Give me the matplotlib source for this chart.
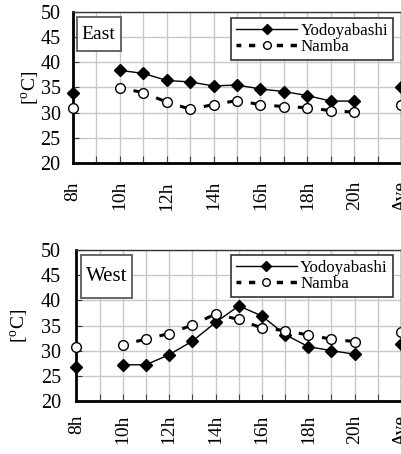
import matplotlib
matplotlib.use("Agg")
import matplotlib.pyplot as plt
from matplotlib.lines import Line2D
from matplotlib.patches import Rectangle
import numpy as np

plt.rcParams['font.family'] = ['Liberation Serif', 'DejaVu Serif']
plt.rcParams['mathtext.fontset'] = 'custom'
plt.rcParams['mathtext.rm'] = 'Liberation Serif'
plt.rcParams['lines.scale_dashes'] = False

categories = ['8h', '9h', '10h', '11h', '12h', '13h', '14h', '15h', '16h',
              '17h', '18h', '19h', '20h', '', 'Ave']
tick_labels = ['8h', '', '10h', '', '12h', '', '14h', '', '16h', '', '18h',
               '', '20h', '', 'Ave']

east_yodoyabashi = [33.9, None, 38.4, 37.8, 36.4, 36.1, 35.3, 35.5, 34.7,
                    34.2, 33.4, 32.3, 32.3, None, 35.0]
east_namba = [31.0, None, 34.9, 34.0, 32.1, 30.7, 31.6, 32.4, 31.6,
              31.2, 31.0, 30.4, 30.1, None, 31.6]
west_yodoyabashi = [26.7, None, 27.2, 27.2, 29.2, 31.9, 35.6, 38.9, 36.9,
                    33.2, 30.8, 30.0, 29.3, None, 31.4]
west_namba = [30.7, None, 31.2, 32.3, 33.4, 35.1, 37.3, 36.2, 34.5,
              34.0, 33.1, 32.3, 31.8, None, 33.7]

def to_arr(v):
    return np.array([np.nan if a is None else a for a in v], dtype=float)

fig = plt.figure(figsize=(4.02, 4.54), dpi=100)

def draw(ax, yodo, namba, title, title_box, title_size, leg_anchor,
         xpad, ypad, ylab_x):
    x = np.arange(len(categories))
    yv = to_arr(yodo)
    nv = to_arr(namba)
    ax.set_xlim(0, len(categories) - 1)
    ax.set_ylim(20, 50)
    ax.set_yticks(np.arange(20, 51, 5))
    ax.set_xticks(x)
    ax.set_xticklabels(tick_labels, rotation=90, fontsize=14)
    ax.tick_params(axis='y', labelsize=14.5, direction='in', length=4,
                   color='#333333', pad=ypad)
    ax.tick_params(axis='x', direction='in', length=5, color='#444444',
                   pad=xpad)
    ax.grid(True, color='#c8c8c8', lw=1)
    ax.set_axisbelow(True)
    for s in ['left', 'bottom']:
        ax.spines[s].set_linewidth(2)
        ax.spines[s].set_color('black')
    for s in ['top', 'right']:
        ax.spines[s].set_linewidth(1)
        ax.spines[s].set_color('#333333')
    # Yodoyabashi solid line
    ax.plot(x, yv, color='black', lw=1, marker='D', markersize=6.5,
            markerfacecolor='black', markeredgecolor='black', clip_on=False,
            zorder=4)
    # Namba: dashed segment near each following marker
    on, off, d = 5.0, 200.0, 10.0
    for i in range(len(x) - 1):
        if np.isnan(nv[i]) or np.isnan(nv[i + 1]):
            continue
        ax.plot([x[i], x[i + 1]], [nv[i], nv[i + 1]], color='black', lw=2.2,
                linestyle=(on + off - d, (on, off)), zorder=3,
                solid_capstyle='butt', dash_capstyle='butt')
    ax.plot(x, nv, linestyle='none', marker='o', markersize=7,
            markerfacecolor='white', markeredgecolor='black',
            markeredgewidth=1, clip_on=False, zorder=5)
    ax.set_ylabel('[$^{\\mathrm{o}}$C]', fontsize=14)
    ax.yaxis.set_label_coords(ylab_x, 0.5)
    x0, y0, x1, y1 = title_box
    ax.add_patch(Rectangle((x0, y0), x1 - x0, y1 - y0, transform=ax.transAxes,
                           fc='white', ec='#666666', lw=1.4, zorder=6))
    ax.text((x0 + x1) / 2, (y0 + y1) / 2, title, transform=ax.transAxes,
            fontsize=title_size, ha='center', va='center', zorder=7)
    h1 = Line2D([], [], color='black', lw=1, marker='D', markersize=5.5,
                markerfacecolor='black')
    h2 = Line2D([], [], color='black', lw=2.5, linestyle=(1, (4.5, 5.5)),
                marker='o', markersize=5.5, markerfacecolor='white',
                markeredgewidth=1, dash_capstyle='butt')
    leg = ax.legend([h1, h2], ['Yodoyabashi', 'Namba'], loc='upper right',
                    bbox_to_anchor=leg_anchor, borderaxespad=0,
                    fontsize=12.2, handlelength=3.6, handletextpad=0.2,
                    labelspacing=0.0, borderpad=0.3, fancybox=False,
                    framealpha=1, edgecolor='#333333')
    leg.get_frame().set_linewidth(1.2)
    leg.set_zorder(8)

ax1 = fig.add_axes([0.1816, 0.641, 0.816, 0.3326])
draw(ax1, east_yodoyabashi, east_namba, 'East',
     (0.011, 0.742, 0.145, 0.964), 14, (0.976, 0.96),
     xpad=13, ypad=9, ylab_x=-0.095)
ax2 = fig.add_axes([0.19, 0.1167, 0.8077, 0.3326])
draw(ax2, west_yodoyabashi, west_namba, 'West',
     (0.0145, 0.682, 0.171, 0.967), 15, (0.975, 0.967),
     xpad=10, ypad=11, ylab_x=-0.14)

fig.savefig('out.png', dpi=100)
